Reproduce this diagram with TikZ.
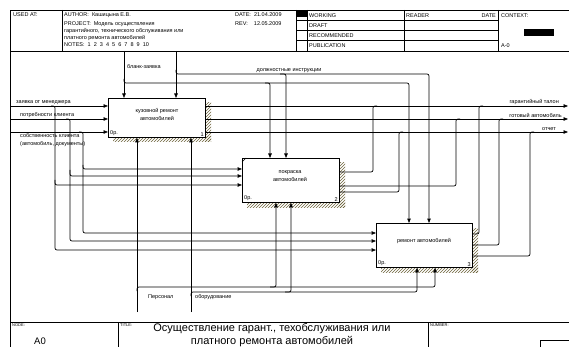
\documentclass[tikz,border=0pt]{standalone}
\usepackage{fontspec}
\setmainfont{Liberation Sans}
\usetikzlibrary{arrows.meta,patterns}
\definecolor{hatchcol}{RGB}{110,100,60}

\begin{document}
\begin{tikzpicture}[x=1pt,y=-1pt]
\tikzset{frame/.style={line width=0.5pt},
  hdr/.style={font=\fontsize{5.5}{6.5}\selectfont, inner sep=0pt, anchor=west},
  tiny/.style={font=\fontsize{4}{5}\selectfont, inner sep=0pt, anchor=north west},
  lbl/.style={font=\fontsize{5.5}{8}\selectfont, inner sep=0pt},
  act/.style={draw, line width=0.8pt, fill=white, anchor=north west, inner sep=0pt,
    minimum width=97pt, minimum height=44pt},
  hatch/.style={pattern=north east lines, pattern color=hatchcol},
  link/.style={line width=0.7pt, rounded corners=2pt},
  arr/.style={link, -{Triangle[length=4.5pt,width=3.5pt]}}}
\useasboundingbox (0,0) rectangle (569,347);

% header
\draw[frame] (10,347) -- (10,10) -- (569,10);
\draw[frame] (10,51) -- (569,51);
\draw[frame] (62,10) -- (62,51);
\foreach \x in {296,307,404,498} \draw[frame] (\x,10) -- (\x,51);
\foreach \y in {20.25,30.5,40.75} \draw[frame] (296,\y) -- (498,\y);
\fill (296,10) rectangle (307,17.5);
\fill (524,29) rectangle (554,36);
\node[hdr] (usedat) at (13,15) {USED AT:};
\node[hdr] (author) at (64,15) {AUTHOR:\ \ Кашицына Е.В.};
\node[hdr] (project) at (64,24) {PROJECT:\ \ Модель осуществления};
\node[hdr] (proj2) at (64,31) {гарантийного, технического обслуживания или};
\node[hdr] (proj3) at (64,38) {платного ремонта автомобилей};
\node[hdr] (notes) at (64,44.5) {NOTES:\ \ 1\ \ 2\ \ 3\ \ 4\ \ 5\ \ 6\ \ 7\ \ 8\ \ 9\ \ 10};
\node[hdr] (date) at (235,15) {DATE:\ \ 21.04.2009};
\node[hdr] (rev) at (235,24) {REV:\ \ \ \ 12.05.2009};
\node[hdr] (working) at (309,15.2) {WORKING};
\node[hdr] (draft) at (309,25.4) {DRAFT};
\node[hdr] (recom) at (309,35.6) {RECOMMENDED};
\node[hdr] (public) at (309,45.9) {PUBLICATION};
\node[hdr] (reader) at (406,15.2) {READER};
\node[hdr, anchor=east] (rdate) at (496,15.2) {DATE};
\node[hdr] (context) at (501,15.2) {CONTEXT:};
\node[hdr] (ctxnode) at (501,45.9) {A-0};

% footer
\draw[frame] (10,322) -- (569,322);
\draw[frame] (118,322) -- (118,347);
\draw[frame] (428,322) -- (428,347);
\draw[frame] (540,347) -- (540,340) -- (569,340);
\node[tiny] (nodelbl) at (12,324) {NODE:};
\node[tiny] (titlelbl) at (120,324) {TITLE:};
\node[tiny] (numlbl) at (430,324) {NUMBER:};
\node[font=\fontsize{9.5}{10}\selectfont, inner sep=0pt] (nodeid) at (40,341) {A0};
\node[font=\fontsize{11}{13}\selectfont, inner sep=0pt, align=center] (title) at (272,335.5)
  {Осуществление гарант., техобслуживания или\\платного ремонта автомобилей};

% activities
\fill[hatch] (205,103) rectangle (211,142);
\fill[hatch] (113,137) rectangle (211,142);
\fill[hatch] (339,163) rectangle (345,207);
\fill[hatch] (247,202) rectangle (345,207);
\fill[hatch] (472,228) rectangle (478,272);
\fill[hatch] (381,267) rectangle (478,272);
\node[act, minimum height=39pt] (b1) at (108,98) {};
\node[act] (b2) at (242,158) {};
\node[act, minimum width=96pt] (b3) at (376,223) {};
\draw[frame] ([yshift=-4pt]b2.north west) -- ([xshift=4pt]b2.north west);
\node[lbl, align=center] (t1) at (157,114) {кузовной ремонт\\автомобилей};
\node[lbl, align=center] (t2) at (290,176) {покраска\\автомобилей};
\node[lbl] (t3) at (424,241) {ремонт автомобилей};
\foreach \b/\n in {b1/1,b2/2,b3/3} {
  \node[lbl, anchor=south west] (\b cost) at ([shift={(2pt,1.5pt)}]\b.south west) {0р.};
  \node[lbl, anchor=south east] (\b num) at ([shift={(-2pt,1.5pt)}]\b.south east) {\n};
}

% borders of the arrows
\coordinate (zayavka) at (10,106);
\coordinate (potreb) at (10,119);
\coordinate (sobstv) at (10,132);
\coordinate (blank) at (124,51);
\coordinate (dolzh) at (176,51);
\coordinate (personal) at (137,312);
\coordinate (oborud) at (191,312);
\coordinate (talon) at (568,106);
\coordinate (avto) at (568,119);
\coordinate (otchet) at (568,132);

% inputs
\draw[arr] (zayavka) -- (b1.west |- zayavka);
\draw[arr] (potreb) -- (b1.west |- potreb);
\draw[arr] (sobstv) -- (b1.west |- sobstv);
\draw[arr] (51,106) -- (55,106) -- (55,185) -- (b2.west |- 0,185);
\draw[arr] (55,180) -- (55,250) -- (b3.west |- 0,250);
\draw[arr] (66,119) -- (70,119) -- (70,176) -- (b2.west |- 0,176);
\draw[arr] (70,170) -- (70,241) -- (b3.west |- 0,241);
\draw[arr] (79,132) -- (83,132) -- (83,169) -- (b2.west |- 0,169);
\draw[arr] (83,165) -- (83,233) -- (b3.west |- 0,233);

% controls
\draw[arr] (blank) -- (b1.north -| blank);
\draw[arr] (124,79) -- (124,83) -- (270,83) -- (b2.north -| 270,0);
\draw[arr] (265,83) -- (409,83) -- (b3.north -| 409,0);
\draw[arr] (dolzh) -- (b1.north -| dolzh);
\draw[arr] (176,70) -- (176,74) -- (286,74) -- (b2.north -| 286,0);
\draw[arr] (280,74) -- (429,74) -- (b3.north -| 429,0);

% mechanisms
\draw[arr] (personal) -- (b1.south -| personal);
\draw[arr] (oborud) -- (b1.south -| oborud);
\draw[arr] (137,291) -- (137,287) -- (276,287) -- (b2.south -| 276,0);
\draw[arr] (270,287) -- (435,287) -- (b3.south -| 435,0);
\draw[arr] (191,296) -- (191,292) -- (291,292) -- (b2.south -| 291,0);
\draw[arr] (285,292) -- (417,292) -- (b3.south -| 417,0);

% outputs
\draw[arr] (b1.east |- talon) -- (talon);
\draw[arr] (b1.east |- avto) -- (avto);
\draw[arr] (b1.east |- otchet) -- (otchet);
\draw[link] (b2.east |- 0,172) -- (373,172) -- (373,106) -- (377,106);
\draw[link] (b2.east |- 0,186) -- (456,186) -- (456,119) -- (460,119);
\draw[link] (b2.east |- 0,192) -- (399,192) -- (399,132) -- (403,132);
\draw[link] (b3.east |- 0,234) -- (479,234) -- (479,106) -- (483,106);
\draw[link] (b3.east |- 0,245) -- (499,245) -- (499,119) -- (503,119);
\draw[link] (b3.east |- 0,256) -- (530,256) -- (530,132) -- (534,132);

% arrow labels
\node[lbl, anchor=south west] (lzayavka) at (16,104.5) {заявка от менеджера};
\node[lbl, anchor=south west] (lpotreb) at (20,117.5) {потребности клиента};
\node[lbl, anchor=north west, align=left] (lsobstv) at (20,133) {собственность клиента\\(автомобиль, документы)};
\node[lbl, anchor=west] (lblank) at (127,67) {бланк-заявка};
\node[lbl, anchor=south] (ldolzh) at (289,72.5) {должностные инструкции};
\node[lbl, anchor=south east] (ltalon) at (559,104.5) {гарантийный талон};
\node[lbl, anchor=south east] (lavto) at (562,117.5) {готовый автомобиль};
\node[lbl, anchor=south east] (lotchet) at (556,130.5) {отчет};
\node[lbl, anchor=west] (lpers) at (148,297) {Персонал};
\node[lbl, anchor=west] (loborud) at (195,297) {оборудование};
\end{tikzpicture}
\end{document}
